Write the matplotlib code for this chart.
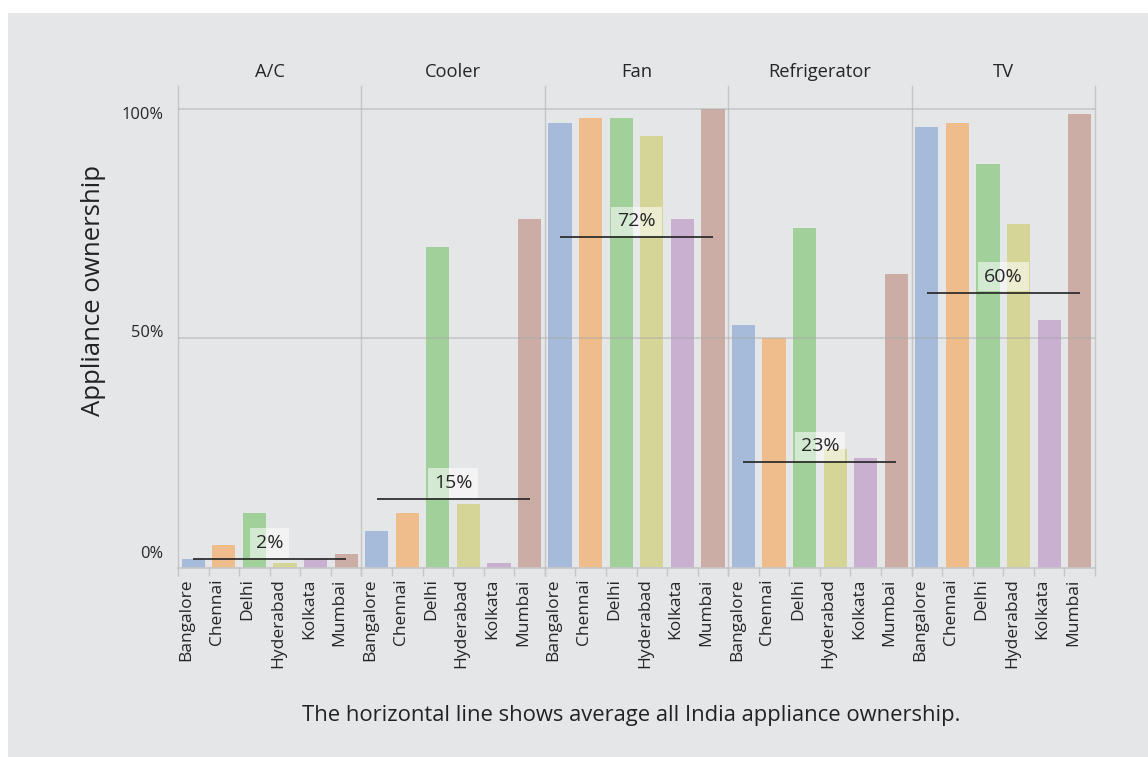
import numpy as np
import matplotlib.pyplot as plt
from matplotlib.patches import Rectangle

plt.rcParams["font.family"] = ["Open Sans", "DejaVu Sans"]

# Data
# ----
cities = ["Bangalore", "Chennai", "Delhi", "Hyderabad", "Kolkata", "Mumbai"]
appliances = ["A/C", "Cooler", "Fan", "Refrigerator", "TV"]

ac = [2, 5, 12, 1, 2, 3]
cooler = [8, 12, 70, 14, 1, 76]
fan = [97, 98, 98, 94, 76, 100]
fridge = [53, 50, 74, 26, 24, 64]
tv = [96, 97, 88, 75, 54, 99]

all_india = [2, 15, 72, 23, 60]

y_ticks = [0, 50, 100]
y_tick_labels = ["0%", "50%", "100%"]

colors = ["#a6bbda", "#efbc8c", "#a1d09a", "#d5d598", "#c9b0d1", "#cbada5"]

ownership = [ac, cooler, fan, fridge, tv]

# Layout (pixels)
# ---------------
W, H = 1148, 757
left, right, top, bottom = 178, 1095, 86, 568
pw = (right - left) / len(appliances)
text_color = "#262626"
line_gray = "#c6c6c8"

fig = plt.figure(figsize=(W / 100, H / 100), dpi=100)
fig.patch.set_facecolor("white")
fig.patches.append(Rectangle(
    (8 / W, 0), 1, (H - 13) / H,
    transform=fig.transFigure,
    facecolor="#e5e6e8", edgecolor="none", zorder=-10,
))

x = np.arange(len(cities))
# vertical nudge of the y labels, pixels
y_label_shift = [14, 5, -6]

for k, (name, vals, avg) in enumerate(zip(appliances, ownership, all_india)):
    ax = fig.add_axes([
        (left + k * pw) / W, (H - bottom) / H, pw / W, (bottom - top) / H
    ])
    ax.set_facecolor("none")

    ax.bar(x + 0.5, vals, width=0.76, color=colors, zorder=2)

    ax.set_xlim(0, len(cities))
    ax.set_ylim(0, 105)

    # gridlines sit over the bars
    for yv in y_ticks[1:]:
        ax.axhline(yv, color="#a8a8aa", lw=1.2, alpha=0.5, zorder=3)

    # all India average
    ax.hlines(avg, 0.5, len(cities) - 0.5, color="#222222", lw=1.2, zorder=4)
    ax.annotate(
        f"{avg}%", xy=(len(cities) / 2, avg),
        xytext=(0, 16), textcoords="offset pixels",
        ha="center", va="center", fontsize=14, color=text_color,
        bbox=dict(boxstyle="square,pad=0.3", fc="white", ec="none", alpha=0.55),
        zorder=5,
    )

    # spines
    for side in ["top", "right"]:
        ax.spines[side].set_visible(False)
    ax.spines["left"].set_color(line_gray)
    ax.spines["left"].set_linewidth(1.0)
    ax.spines["bottom"].set_color(line_gray)
    ax.spines["bottom"].set_linewidth(1.2)
    if k == len(appliances) - 1:
        ax.spines["right"].set_visible(True)
        ax.spines["right"].set_color(line_gray)
        ax.spines["right"].set_linewidth(1.0)

    # x ticks: labels inside each band, marks at band edges
    ax.set_xticks(x + 0.28)
    ax.set_xticklabels(cities, rotation=90, fontsize=12.5, color=text_color)
    ax.tick_params(axis="x", which="major", length=0, pad=7.5)
    ax.set_xticks(np.arange(len(cities) + 1), minor=True)
    ax.tick_params(axis="x", which="minor", length=6, width=1.0, color=line_gray)

    ax.set_yticks([])
    ax.set_title(name, fontsize=13.2, color=text_color, pad=6.5)

    if k == 0:
        for yv, lab, dy in zip(y_ticks, y_tick_labels, y_label_shift):
            ax.annotate(
                lab, xy=(0, yv), xycoords=("axes fraction", "data"),
                xytext=(-15, dy), textcoords="offset pixels",
                ha="right", va="center", fontsize=11.8, color=text_color,
                annotation_clip=False,
            )

fig.text(94 / W, 1 - 290 / H, "Appliance ownership",
         rotation=90, ha="center", va="center", fontsize=18.5, color="#222222")
fig.text(631 / W, 1 - 715 / H,
         "The horizontal line shows average all India appliance ownership.",
         ha="center", va="center", fontsize=15.8, color="#222222")

fig.savefig("out.png", dpi=100)
